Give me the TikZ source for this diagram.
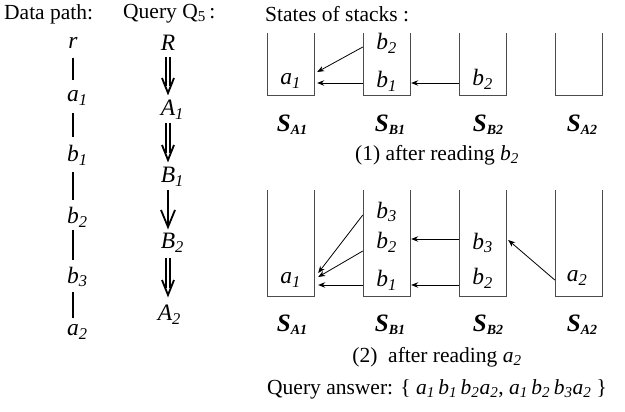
\documentclass[tikz,border=0pt]{standalone}
\usepackage{fontspec}
\setmainfont{Liberation Serif}
\usetikzlibrary{arrows.meta,calc}
\newcommand{\vr}[2]{\textit{#1}\rlap{\textsubscript{\textit{#2}}}}
\newcommand{\vv}[2]{\textit{#1}\textsubscript{\textit{#2}}}
\newcommand{\stk}[1]{\textbf{\textit{S}}\raisebox{-0.25ex}{\fontsize{14}{14}\selectfont\textbf{\textit{#1}}}}
\tikzset{
  txt/.style={inner sep=0pt, font=\fontsize{21.5}{25}\selectfont},
  it/.style={inner sep=0pt, font=\fontsize{23.5}{27}\selectfont},
  slab/.style={inner sep=0pt, font=\fontsize{25}{29}\selectfont},
  wall/.style={draw=black!70, line width=0.9pt},
  pline/.style={line width=1.8pt},
  shaft/.style={line width=1.8pt},
  dshaft/.style={line width=1.6pt, double distance=2.6pt},
  arr/.style={line width=0.8pt, -{Stealth[length=7pt,width=5.5pt]}},
}
\begin{document}
\begin{tikzpicture}[x=1pt,y=-1pt]
\path[use as bounding box] (0,0) rectangle (625,412);
% headings
\node[txt, anchor=west] (hd) at (4,14) {Data path:};
\node[txt, anchor=west] (hq) at (123,14) {Query Q\textsubscript{5}\,:};
\node[txt, anchor=west] (hs) at (265,14) {States of stacks :};
% data path
\node[it] (r) at (73,43) {\textit{r}};
\node[it] (pa1) at (73,98) {\vr{a}{1}};
\node[it] (pb1) at (73,155) {\vr{b}{1}};
\node[it] (pb2) at (73,217) {\vr{b}{2}};
\node[it] (pb3) at (73,277) {\vr{b}{3}};
\node[it] (pa2) at (73,332) {\vr{a}{2}};
\draw[pline] ($(r)+(0,15)$) -- ($(pa1)+(0,-18)$);
\draw[pline] ($(pa1)+(0,15)$) -- ($(pb1)+(0,-18)$);
\draw[pline] ($(pb1)+(0,17)$) -- ($(pb2)+(0,-17)$);
\draw[pline] ($(pb2)+(0,13)$) -- ($(pb3)+(0,-17)$);
\draw[pline] ($(pb3)+(0,15)$) -- ($(pa2)+(0,-14)$);
% query
\node[it] (R) at (168,43) {\textit{R}};
\node[it] (A1) at (168,110) {\vr{A}{1}};
\node[it] (B1) at (168,177) {\vr{B}{1}};
\node[it] (B2) at (168,243) {\vr{B}{2}};
\node[it] (A2) at (165,315) {\vr{A}{2}};
% R => A1
\draw[dshaft] ($(R)+(0,14)$) -- ($(A1)+(0,-24)$);
\draw[shaft] ($(A1)+(-6,-32)$) -- ($(A1)+(0,-17)$) -- ($(A1)+(6,-32)$);
% A1 => B1
\draw[dshaft] ($(A1)+(0,13)$) -- ($(B1)+(0,-24)$);
\draw[shaft] ($(B1)+(-6,-32)$) -- ($(B1)+(0,-17)$) -- ($(B1)+(6,-32)$);
% B1 -> B2
\draw[shaft] ($(B1)+(0,13)$) -- ($(B2)+(0,-16)$);
\draw[shaft] ($(B2)+(-7,-33)$) -- ($(B2)+(0,-16)$) -- ($(B2)+(7,-33)$);
% B2 => A2
\draw[dshaft] ($(B2)+(0,15)$) -- ($(A2)+(3,-27)$);
\draw[shaft] ($(A2)+(-3,-35)$) -- ($(A2)+(3,-20)$) -- ($(A2)+(9,-35)$);
% stacks
\foreach \xl in {267,363,459,555}{
  \draw[wall] (\xl,33) -- (\xl,95) -- (\xl+47,95) -- (\xl+47,33);
  \draw[wall] (\xl,190) -- (\xl,296) -- (\xl+47,296) -- (\xl+47,190);
}
% panel 1
\node[it, minimum width=47pt] (ta1) at (290.5,81) {\vv{a}{1}};
\node[it, minimum width=47pt] (tb2) at (386.5,43) {\vv{b}{2}};
\node[it, minimum width=47pt] (tb1) at (386.5,81) {\vv{b}{1}};
\node[it, minimum width=47pt] (tc2) at (482.5,79) {\vv{b}{2}};
\draw[arr] ($(tb2.west)+(0,4)$) -- ($(ta1.east)+(3,-9)$);
\draw[arr] ($(tb1.west)+(0,2)$) -- ($(ta1.east)+(3,2)$);
\draw[arr] ($(tc2.west)+(0,4)$) -- ($(tb1.east)+(1,2)$);
\node[slab] (s1a) at (292,125) {\stk{A1}};
\node[slab] (s1b) at (390,125) {\stk{B1}};
\node[slab] (s1c) at (488,125) {\stk{B2}};
\node[slab] (s1d) at (582,125) {\stk{A2}};
\node[txt] (cap1) at (437,155) {(1) after reading \vv{b}{2}};
% panel 2
\node[it, minimum width=47pt] (ua1) at (290.5,280) {\vv{a}{1}};
\node[it, minimum width=47pt] (ub3) at (386.5,212) {\vv{b}{3}};
\node[it, minimum width=47pt] (ub2) at (386.5,242) {\vv{b}{2}};
\node[it, minimum width=47pt] (ub1) at (386.5,280) {\vv{b}{1}};
\node[it, minimum width=47pt] (vb3) at (482.5,243) {\vv{b}{3}};
\node[it, minimum width=47pt] (vb2) at (482.5,278) {\vv{b}{2}};
\node[it, minimum width=47pt] (wa2) at (577,278) {\vv{a}{2}};
\draw[arr] ($(ub3.west)+(0,3)$) -- ($(ua1.east)+(4,-7)$);
\draw[arr] ($(ub2.west)+(0,9)$) -- ($(ua1.east)+(4,-3)$);
\draw[arr] ($(ub1.west)+(0,5)$) -- ($(ua1.east)+(4,5)$);
\draw[arr] ($(vb3.west)+(0,-4)$) -- ($(ub2.east)+(1,-3)$);
\draw[arr] ($(vb2.west)+(0,7)$) -- ($(ub1.east)+(1,5)$);
\draw[arr] ($(wa2.west)+(1.5,2)$) -- ($(vb3.east)+(2,-3)$);
\node[slab] (s2a) at (292,325) {\stk{A1}};
\node[slab] (s2b) at (390,325) {\stk{B1}};
\node[slab] (s2c) at (488,325) {\stk{B2}};
\node[slab] (s2d) at (582,325) {\stk{A2}};
\node[txt] (cap2) at (437,357) {(2)\ \ after reading \vv{a}{2}};
\node[txt, anchor=west] (ans) at (267,389) {Query answer: \{ \vv{a}{1}\,\vv{b}{1}\,\vv{b}{2}\vv{a}{2}, \vv{a}{1}\,\vv{b}{2}\,\vv{b}{3}\vv{a}{2} \}};
\end{tikzpicture}
\end{document}
